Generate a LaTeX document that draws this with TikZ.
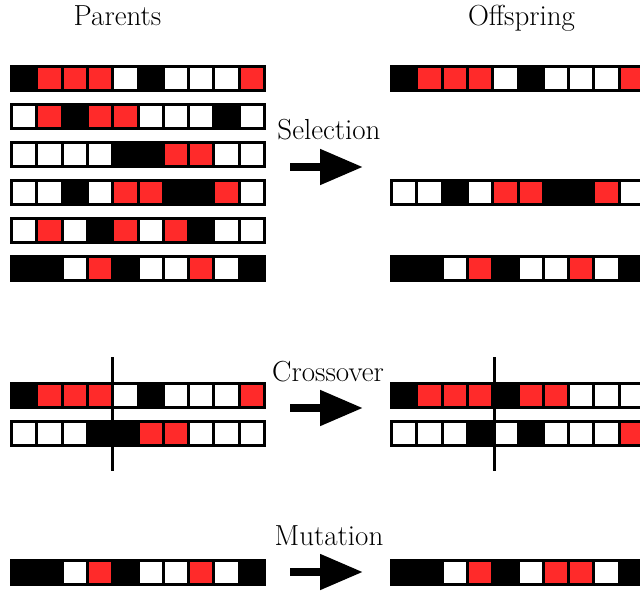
\documentclass[tikz,border=0pt]{standalone}
\usetikzlibrary{arrows.meta}
\definecolor{gR}{RGB}{255,42,42}
\colorlet{gW}{white}
\colorlet{gB}{black}
% \genome{x}{y}{list of W/R/B}: one chromosome of ten genes
\newcommand\genome[3]{%
  \foreach \c [count=\i from 0] in {#3}
    \draw[genecell, fill=g\c] ({#1+\i*25.3},#2) rectangle ++(25.3,24);
  \draw[genebar] (#1,#2) rectangle ++(253,24);
}
\begin{document}
\begin{tikzpicture}[x=1pt,y=-1pt,
  genecell/.style={draw=black,line width=3pt},
  genebar/.style={draw=black,line width=3pt},
  headtext/.style={font=\fontsize{29}{35}\selectfont, anchor=base, inner sep=0pt},
  bigarrow/.style={line width=8pt, -{Triangle[length=43pt,width=34pt]}},
  cutline/.style={line width=3pt}]
\useasboundingbox (0,0) rectangle (640,591);

% column titles
\node[headtext] (parents) at (117.5,26) {Parents};
\node[headtext] (offspring) at (521.5,26) {Offspring};

% selection: parent pool
\genome{11.5}{66.5}{B,R,R,R,W,B,W,W,W,R}
\genome{11.5}{104.5}{W,R,B,R,R,W,W,W,B,W}
\genome{11.5}{142.5}{W,W,W,W,B,B,R,R,W,W}
\genome{11.5}{180.5}{W,W,B,W,R,R,B,B,R,W}
\genome{11.5}{218.5}{W,R,W,B,R,W,R,B,W,W}
\genome{11.5}{256.5}{B,B,W,R,B,W,W,R,W,B}
% selected offspring
\genome{391.5}{66.5}{B,R,R,R,W,B,W,W,W,R}
\genome{391.5}{180.5}{W,W,B,W,R,R,B,B,R,W}
\genome{391.5}{256.5}{B,B,W,R,B,W,W,R,W,B}

\node[headtext] (selection) at (329,140) {Selection};
\coordinate (selA) at (290,167);
\coordinate (selB) at (363,167);
\draw[bigarrow] (selA) -- (selB);

% crossover
\genome{11.5}{383.5}{B,R,R,R,W,B,W,W,W,R}
\genome{11.5}{421.5}{W,W,W,B,B,R,R,W,W,W}
\genome{391.5}{383.5}{B,R,R,R,B,R,R,W,W,W}
\genome{391.5}{421.5}{W,W,W,B,W,B,W,W,W,R}
\coordinate (cutLt) at (112,357);
\coordinate (cutLb) at (112,471);
\coordinate (cutRt) at (494,357);
\coordinate (cutRb) at (494,471);
\draw[cutline] (cutLt) -- (cutLb);
\draw[cutline] (cutRt) -- (cutRb);

\node[headtext] (crossover) at (328,381) {Crossover};
\coordinate (crsA) at (290,408);
\coordinate (crsB) at (363,408);
\draw[bigarrow] (crsA) -- (crsB);

% mutation
\genome{11.5}{560.5}{B,B,W,R,B,W,W,R,W,B}
\genome{391.5}{560.5}{B,B,W,R,B,W,R,R,W,B}

\node[headtext] (mutation) at (329,545) {Mutation};
\coordinate (mutA) at (290,572);
\coordinate (mutB) at (363,572);
\draw[bigarrow] (mutA) -- (mutB);
\end{tikzpicture}
\end{document}
